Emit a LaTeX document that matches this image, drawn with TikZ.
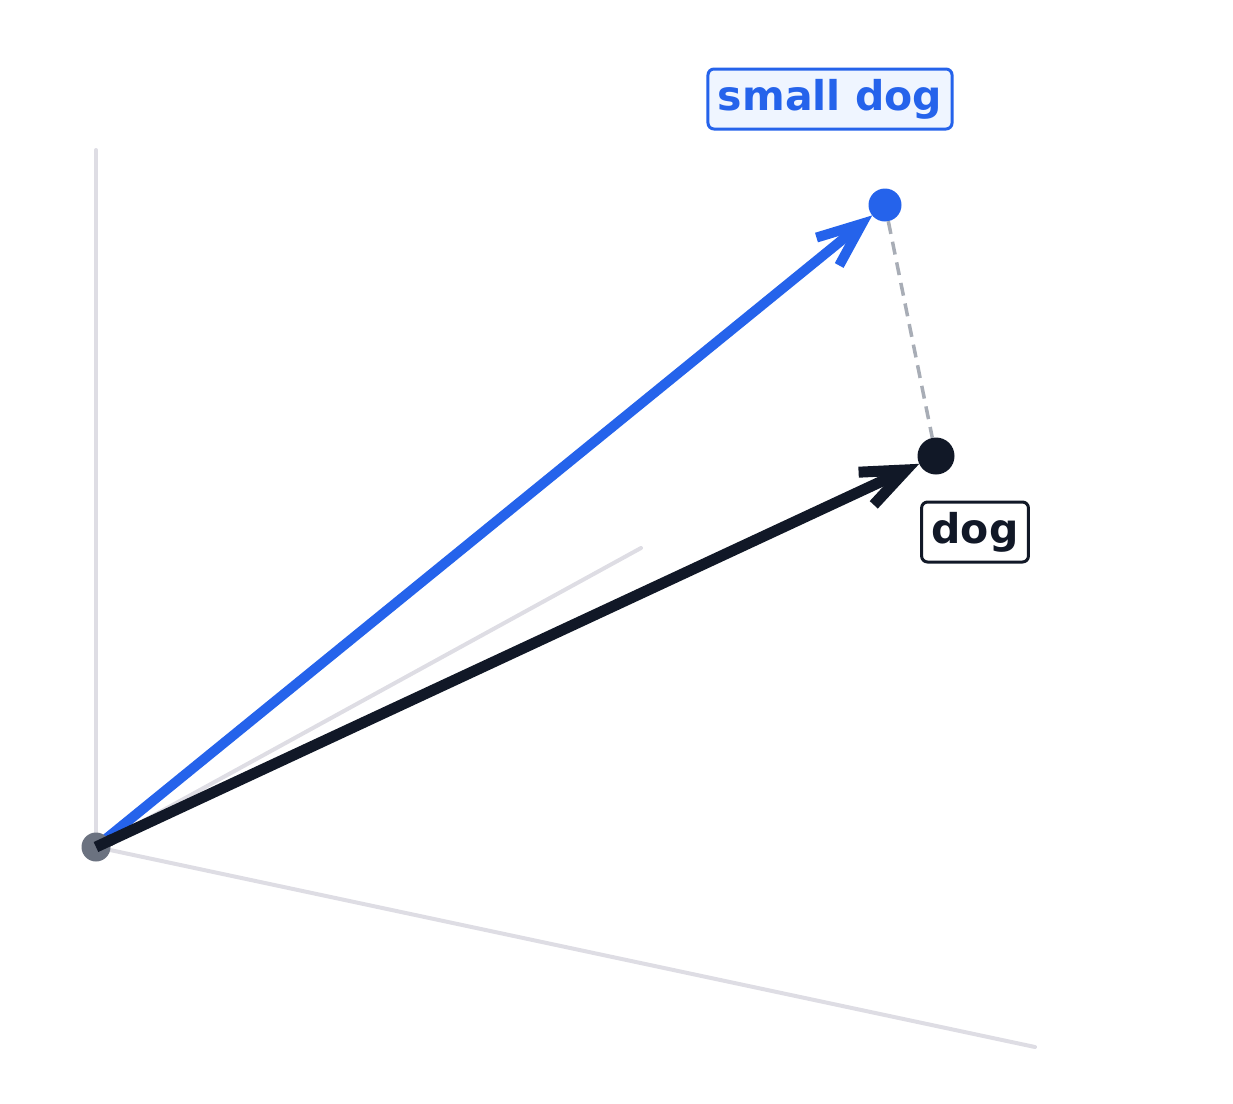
\documentclass[tikz,border=0pt]{standalone}
\usepackage{fontspec}
\setmainfont{DejaVu Sans}
\usepackage{tikz}
\usetikzlibrary{positioning,calc,arrows.meta}
\definecolor{vblue}{HTML}{2563EB}
\definecolor{vink}{HTML}{111827}
\definecolor{vaxis}{HTML}{DEDDE4}
\definecolor{vdash}{HTML}{A8ADB6}
\definecolor{vorig}{HTML}{6B7280}
\definecolor{vpale}{HTML}{EFF5FF}
\tikzset{axisline/.style={draw=vaxis, line width=4pt, line cap=round}}
\tikzset{dot/.style={circle, inner sep=0pt, minimum size=#1, outer sep=0pt}}
\tikzset{vec/.style args={#1/#2}{draw=#1, line width=#2, -{Straight Barb[length=44pt, width=36pt, sharp, line width=#2]}}}
\tikzset{tag/.style={rounded corners=6, line width=3pt, inner xsep=10pt, inner ysep=10pt, font=\fontsize{41}{41}\selectfont\bfseries}}

\begin{document}
\begin{tikzpicture}[x=1pt, y=-1pt]
	\useasboundingbox (0,0) rectangle (1233,1103);

	\coordinate (O) at (96, 847);
	\coordinate (ztop) at (96, 150);
	\coordinate (xend) at (1035, 1047);
	\coordinate (yend) at (641, 548);
	\draw[axisline] (O) -- (ztop);
	\draw[axisline] (O) -- (xend);
	\draw[axisline] (O) -- (yend);

	\node[dot=33pt, fill=vblue] (sd) at (885, 205) {};
	\node[dot=37pt, fill=vink] (d) at (936, 456) {};
	\draw[vdash, line width=3.5pt, dash pattern=on 13pt off 8pt] (sd) -- (d);

	\draw[vec=vblue/10pt] (O) -- (sd);
	\draw[vec=vink/11pt] (O) -- (d);
	\node[dot=29pt, fill=vorig] (o) at (O) {};
	\draw[vink, line width=11pt] (O) -- ($(O)!18pt!(d)$);

	\node[tag, draw=vblue, fill=vpale, text=vblue] (sdlab) at (830, 99) {small dog};
	\node[tag, draw=vink, fill=white, text=vink] (dlab) at (975, 532) {dog};
\end{tikzpicture}
\end{document}
